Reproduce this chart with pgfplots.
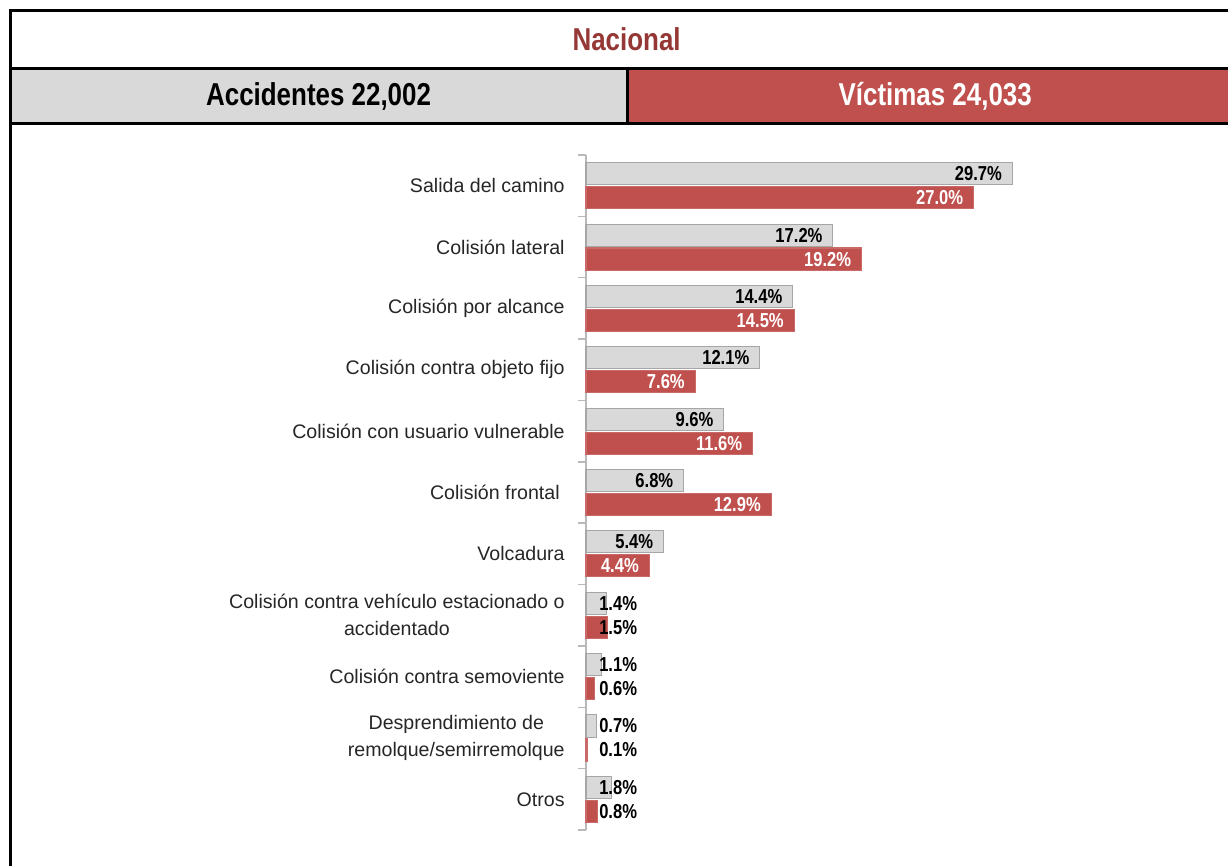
\documentclass[border=0pt]{standalone}
\usepackage{pgfplots}
\pgfplotsset{compat=1.18}
\usepackage{pgfplotstable}
\usepackage{fontspec}
\setmainfont{Liberation Sans}
\newfontfamily\narrow{Liberation Sans}[FakeStretch=0.82]
\definecolor{rojo}{HTML}{C0504D}
\definecolor{rojoosc}{HTML}{953735}
\definecolor{gris}{HTML}{D9D9D9}
\definecolor{grisborde}{HTML}{A6A6A6}
\newcommand\etiq{\narrow\bfseries\fontsize{11.5}{13}\selectfont}
\newcommand\cabeza{\narrow\bfseries\fontsize{18}{20}\selectfont}

% porcentajes: accidentes / victimas
\pgfplotstableread{
pos acc vic
0 29.7 27.0
1 17.2 19.2
2 14.4 14.5
3 12.1 7.6
4 9.6 11.6
5 6.8 12.9
6 5.4 4.4
7 1.4 1.5
8 1.1 0.6
9 0.7 0.1
10 1.8 0.8
}\datos

\begin{document}
\begin{tikzpicture}
% encabezado (1px = 0.02cm)
\begin{scope}[x=0.02cm,y=-0.02cm]
  \fill[gris] (10,68) rectangle (627,123);
  \fill[rojo] (627,68) rectangle (1243,123);
  \draw[line width=0.06cm] (10,900) -- (10,10) -- (1243,10) -- (1243,900);
  \draw[line width=0.06cm] (10,68) -- (1243,68) (10,123) -- (1243,123) (627,68) -- (627,123);
  \node[text=rojoosc, font=\cabeza] at (626.5,39) {Nacional};
  \node[font=\cabeza] at (318.5,96) {Accidentes 22,002};
  \node[text=white, font=\cabeza] at (935,96) {Víctimas 24,033};
\end{scope}

\begin{axis}[
    at={(11.72cm,-3.10cm)}, anchor=north west,
    scale only axis, width=11.48cm, height=13.5cm,
    xmin=0, xmax=40, ymin=-0.5, ymax=10.5, y dir=reverse,
    axis x line=none, axis y line*=left,
    axis line style={draw=gray!55, line width=0.8pt, -},
    ytick={0,...,10}, minor ytick={-0.5,0.5,...,10.5},
    major tick length=0pt, minor tick length=0.16cm, tick align=outside,
    minor tick style={draw=gray!55, line width=0.8pt},
    yticklabels={Salida del camino, Colisión lateral, Colisión por alcance,
      Colisión contra objeto fijo, Colisión con usuario vulnerable,
      {Colisión frontal\hspace{0.1cm}}, Volcadura,
      {Colisión contra vehículo estacionado o\\accidentado},
      Colisión contra semoviente,
      {Desprendimiento de\\remolque/semirremolque}, Otros},
    yticklabel style={align=center, inner sep=0pt, xshift=-0.42cm,
      font=\fontsize{11.15}{15.3}\selectfont, text=black!85},
    clip=false,
]
  % barras
  \addplot[xbar, bar width=0.36, bar shift=-0.195, fill=gris, draw=grisborde, line width=0.6pt]
    table[x=acc, y=pos]{\datos};
  \addplot[xbar, bar width=0.36, bar shift=0.195, fill=rojo, draw=rojo!85!white, line width=0.6pt]
    table[x=vic, y=pos]{\datos};

  % etiquetas dentro de la barra
  \addplot[xbar, bar width=0.36, bar shift=-0.195, draw=none, fill=none,
    point meta=explicit symbolic, nodes near coords,
    every node near coord/.append style={anchor=east, xshift=-0.2cm, yshift=0.24cm, inner sep=0pt, font=\etiq, text=black}]
    coordinates {(29.7,0)[29.7\%] (17.2,1)[17.2\%] (14.4,2)[14.4\%] (12.1,3)[12.1\%]
      (9.6,4)[9.6\%] (6.8,5)[6.8\%] (5.4,6)[5.4\%]};
  \addplot[xbar, bar width=0.36, bar shift=0.195, draw=none, fill=none,
    point meta=explicit symbolic, nodes near coords,
    every node near coord/.append style={anchor=east, xshift=-0.2cm, yshift=-0.24cm, inner sep=0pt, font=\etiq, text=white}]
    coordinates {(27.0,0)[27.0\%] (19.2,1)[19.2\%] (14.5,2)[14.5\%] (7.6,3)[7.6\%]
      (11.6,4)[11.6\%] (12.9,5)[12.9\%] (4.4,6)[4.4\%]};
  % etiquetas fuera (barras cortas)
  \addplot[xbar, bar width=0.36, bar shift=-0.195, draw=none, fill=none,
    point meta=explicit symbolic, nodes near coords,
    every node near coord/.append style={anchor=west, yshift=0.24cm, inner sep=0pt, font=\etiq, text=black}]
    coordinates {(0.9,7)[1.4\%] (0.9,8)[1.1\%] (0.9,9)[0.7\%] (0.9,10)[1.8\%]};
  \addplot[xbar, bar width=0.36, bar shift=0.195, draw=none, fill=none,
    point meta=explicit symbolic, nodes near coords,
    every node near coord/.append style={anchor=west, yshift=-0.24cm, inner sep=0pt, font=\etiq, text=black}]
    coordinates {(0.9,7)[1.5\%] (0.9,8)[0.6\%] (0.9,9)[0.1\%] (0.9,10)[0.8\%]};
\end{axis}

\pgfresetboundingbox
\path[use as bounding box] (0,0) rectangle (24.56cm,-17.32cm);
\end{tikzpicture}
\end{document}
